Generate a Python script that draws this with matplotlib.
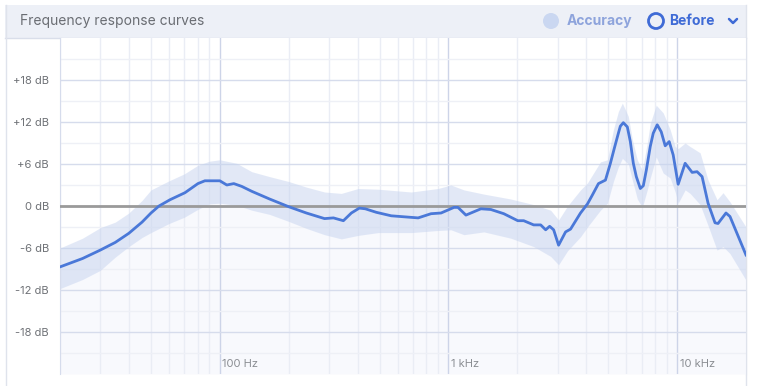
import matplotlib
matplotlib.use('Agg')
import matplotlib.pyplot as plt
from matplotlib.patches import Rectangle, Circle
from matplotlib.ticker import FixedLocator, NullFormatter

plt.rcParams['font.family'] = ['Inter', 'DejaVu Sans']

# --- Data: measured curve (Hz, dB) ---
freq_hz = [20, 25.1, 30, 34.9, 40, 45.7, 50, 54.2, 60.6, 70.4, 80.2, 86, 100, 107.3,
           115.1, 124.7, 137.9, 165, 200, 239, 287, 313.9, 347, 376, 407.4, 432.7,
           483.2, 561.7, 736.5, 838.9, 927.6, 1057, 1100, 1192, 1386, 1532, 1745,
           2009, 2133, 2358, 2530, 2660, 2769, 2883, 3030, 3251, 3418, 3779, 4053,
           4263, 4527, 4857, 5105, 5316, 5533, 5643, 5815, 6054, 6240, 6431, 6627,
           6901, 7111, 7329, 7626, 7860, 8181, 8517, 8866, 9229, 9607, 10100, 10836,
           11627, 12220, 12852, 13650, 14640, 15090, 16350, 17020, 20000]
level_db = [-8.7, -7.5, -6.3, -5.2, -3.9, -2.3, -1.0, 0.0, 0.9, 1.9, 3.2, 3.6, 3.6, 3.0,
            3.2, 2.8, 2.1, 1.0, -0.1, -1.0, -1.8, -1.7, -2.1, -1.0, -0.3, -0.4,
            -0.9, -1.4, -1.7, -1.1, -1.0, -0.2, -0.2, -1.3, -0.4, -0.5, -1.1,
            -2.1, -2.1, -2.7, -2.7, -3.4, -2.9, -3.4, -5.6, -3.7, -3.3, -1.0, 0.3,
            1.6, 3.2, 3.7, 6.1, 8.3, 10.4, 11.4, 11.9, 11.3, 9.2, 6.1, 4.2,
            2.5, 2.9, 5.1, 8.5, 10.4, 11.6, 10.6, 8.6, 9.2, 7.3, 3.1, 6.1,
            4.8, 4.9, 4.2, 0.4, -2.4, -2.5, -1.0, -1.5, -7.0]

# --- Data: accuracy band (Hz, upper dB, lower dB) ---
band_hz = [20, 25.1, 30, 34.9, 40, 45.7, 50, 60, 70, 80, 90, 100, 118.6, 137.9, 165,
           200, 239, 287, 340, 403, 493, 687, 900, 1025, 1168, 1428, 1872, 2358,
           2797, 3030, 3316, 3779, 4053, 4618, 4955, 5262, 5533, 5759, 6116, 6368,
           6694, 7039, 7401, 7626, 8099, 8690, 9322, 9802, 10100, 10836, 11390,
           12600, 13650, 14940, 15870, 17020, 20000]
band_hi = [-6.0, -4.6, -3.1, -2.3, -1.0, 0.8, 2.3, 3.6, 4.6, 5.8, 6.4, 6.6, 6.1, 4.9, 4.2,
           3.5, 2.7, 2.0, 1.8, 2.5, 2.4, 2.0, 2.5, 3.0, 2.3, 1.7, 1.0, 0.2,
           -0.6, -2.0, 0.0, 2.3, 3.3, 6.3, 6.6, 10.9, 13.5, 14.7, 12.8, 9.5,
           6.6, 5.1, 9.0, 11.8, 14.4, 13.3, 10.9, 8.5, 8.2, 9.0, 8.5,
           7.6, 3.7, 0.9, 1.9, 0.6, -3.0]
band_lo = [-11.8, -10.5, -9.2, -7.3, -5.8, -4.5, -3.8, -2.5, -1.6, -0.5, 0.3, 0.4, 0.1, -0.6, -1.2,
           -2.2, -3.2, -4.1, -4.7, -4.2, -3.8, -3.8, -3.5, -3.4, -4.1, -3.7, -4.6, -5.8,
           -7.2, -8.4, -6.4, -4.4, -3.0, -0.6, 0.4, 3.5, 5.6, 6.8, 6.0, 3.7,
           1.0, -0.2, 2.3, 4.0, 7.0, 4.7, 4.0, 2.0, 0.4, 2.3, 1.8,
           0.2, -2.8, -6.3, -5.8, -6.8, -10.6]

y_ticks = [18, 12, 6, 0, -6, -12, -18]
y_labels = ['+18 dB', '+12 dB', '+6 dB', '0 dB', '-6 dB', '-12 dB', '-18 dB']
y_minor = [-21, -15, -9, -3, 3, 9, 15, 21]
x_ticks = [100, 1000, 10000]
x_labels = ['100 Hz', '1 kHz', '10 kHz']
x_minor = [20, 30, 40, 50, 60, 70, 80, 90, 200, 300, 400, 500, 600, 700, 800, 900,
           2000, 3000, 4000, 5000, 6000, 7000, 8000, 9000]

W, H = 760, 386
fig = plt.figure(figsize=(W / 100, H / 100), dpi=100)

# pixel-space layer for the card header and borders
bg = fig.add_axes([0, 0, 1, 1], zorder=0)
bg.set_xlim(0, W)
bg.set_ylim(H, 0)
bg.axis('off')
bg.add_patch(Rectangle((5, 5), 741, 33, facecolor='#edf0f7', edgecolor='none'))
bg.plot([5, 746], [38, 38], color='#d9deea', lw=1)
bg.plot([5.5, 5.5], [5, H], color='#dfe3ec', lw=1)
bg.plot([746, 746], [5, H], color='#dfe3ec', lw=1)
bg.text(20, 21, 'Frequency response curves', color='#6a6d73', fontsize=10, va='center', ha='left')
bg.add_patch(Circle((551, 21), 8, facecolor='#cad7f1', edgecolor='none'))
bg.text(567, 21, 'Accuracy', color='#8ea4dc', fontsize=10, fontweight='bold', va='center', ha='left')
bg.add_patch(Circle((656, 21), 7.5, facecolor='none', edgecolor='#3f6bd6', lw=2))
bg.text(669, 21, 'Before', color='#3f6bd6', fontsize=10, fontweight='bold', va='center', ha='left')
bg.plot([729, 733, 737], [19, 23, 19], color='#3f6bd6', lw=1.8, solid_capstyle='round')

# main plot
ax = fig.add_axes([60 / W, 12 / H, 686 / W, 336 / H], zorder=1)
ax.set_xscale('log')
ax.set_xlim(20, 20000)
ax.set_ylim(-24, 24)

ax.xaxis.set_major_locator(FixedLocator(x_ticks))
ax.xaxis.set_minor_locator(FixedLocator(x_minor))
ax.xaxis.set_major_formatter(NullFormatter())
ax.xaxis.set_minor_formatter(NullFormatter())
ax.set_yticks(y_ticks)
ax.set_yticklabels(y_labels)
ax.set_yticks(y_minor, minor=True)
ax.tick_params(which='both', length=0)
ax.tick_params(axis='y', labelsize=8, labelcolor='#6f7277', pad=8)

ax.grid(True, which='major', axis='x', color='#cdd4e8', lw=1)
ax.grid(True, which='minor', axis='x', color='#eaedf5', lw=1)
ax.grid(True, which='major', axis='y', color='#d6dcec', lw=1)
ax.grid(True, which='minor', axis='y', color='#eef0f6', lw=1)
ax.set_axisbelow(True)

for side in ['top', 'bottom']:
    ax.spines[side].set_visible(False)
ax.spines['left'].set_color('#d6dcec')
ax.spines['right'].set_color('#dfe3ec')

for f, lab in zip(x_ticks, x_labels):
    ax.text(f * 1.025, -22.6, lab, fontsize=8, color='#8a8d92', ha='left', va='center')

# faint tint under the curve sits beneath the grid
ax.fill_between(freq_hz, level_db, -24, color='#f8f9fd', lw=0, zorder=0.2)
ax.fill_between(band_hz, band_lo, band_hi, color='#c6d3ef', alpha=0.5, lw=0, zorder=2)
ax.axhline(0, color='#9a9a9a', lw=2, zorder=3)
ax.plot(freq_hz, level_db, color='#4a78d8', lw=2, zorder=4, solid_joinstyle='round')

plt.savefig('out.png', dpi=100)
